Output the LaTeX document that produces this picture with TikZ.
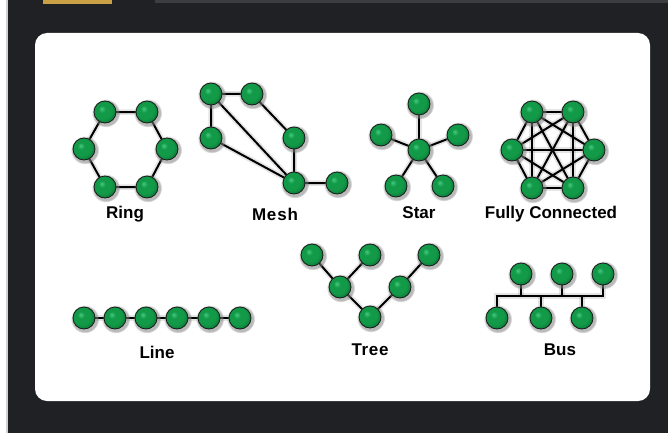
\documentclass[tikz,border=0pt]{standalone}
\usepackage{fontspec}
\setmainfont{Liberation Sans}
\usetikzlibrary{shadows,fadings}
\definecolor{darkbg}{HTML}{202124}
\definecolor{topgray}{HTML}{3C3D41}
\definecolor{goldbar}{HTML}{C9A043}
\definecolor{gHi}{HTML}{45C980}
\definecolor{gMid}{HTML}{129A48}
\definecolor{gDark}{HTML}{0A6E32}
\definecolor{gEdge}{HTML}{06421D}
\pgfdeclareradialshading{greenball}{\pgfpoint{-8bp}{8bp}}{%
  color(0bp)=(gHi); color(8bp)=(gMid); color(20bp)=(gMid); color(32bp)=(gDark); color(42bp)=(gEdge); color(50bp)=(gEdge)}
\pgfdeclarelayer{bg}
\pgfdeclarelayer{edges}
\pgfsetlayers{bg,edges,main}
\tikzset{
  ball/.style={circle, minimum size=22pt, inner sep=0pt, draw=black!90, line width=0.8pt,
    shading=greenball,
    circular drop shadow={shadow xshift=0.6pt, shadow yshift=-0.8pt, shadow scale=1.3, opacity=0.55}},
  link/.style={black, line width=2pt,
    preaction={draw, black, opacity=0.10, line width=5.5pt}},
  lbl/.style={font=\bfseries\fontsize{17}{19}\selectfont, text=black, inner sep=0pt}
}
\begin{document}
\begin{tikzpicture}[x=1pt,y=-1pt]
\useasboundingbox (0,0) rectangle (668,433);
\begin{pgfonlayer}{bg}
  \fill[darkbg] (0,0) rectangle (668,433);
  \fill[white] (0,0) rectangle (6,433);
  \fill[black!18] (6,0) rectangle (8,433);
  \fill[topgray] (155,0) rectangle (668,3);
  \fill[goldbar] (43,0) rectangle (112,4);
  \fill[white, rounded corners=12pt] (35,33) rectangle (650,401);
\end{pgfonlayer}

% ---------- Ring ----------
\node[ball] (r1) at (105,112) {};
\node[ball] (r2) at (147,112) {};
\node[ball] (r3) at (167,149) {};
\node[ball] (r4) at (147,187) {};
\node[ball] (r5) at (105,187) {};
\node[ball] (r6) at (84,149) {};
\node[lbl] (lring) at (125,214) {Ring};

% ---------- Mesh ----------
\node[ball] (m1) at (211,94) {};
\node[ball] (m2) at (252,94) {};
\node[ball] (m3) at (211,138) {};
\node[ball] (m4) at (294,138) {};
\node[ball] (m5) at (294,183) {};
\node[ball] (m6) at (337,183) {};
\node[lbl] (lmesh) at (275,214) {\addfontfeature{LetterSpace=5}Mesh};

% ---------- Star ----------
\node[ball] (s0) at (419,150) {};
\node[ball] (s1) at (419,104) {};
\node[ball] (s2) at (381,135) {};
\node[ball] (s3) at (458,135) {};
\node[ball] (s4) at (396,186) {};
\node[ball] (s5) at (443,186) {};
\node[lbl] (lstar) at (419,213) {Star};

% ---------- Fully connected ----------
\node[ball] (f1) at (532,112) {};
\node[ball] (f2) at (573,112) {};
\node[ball] (f3) at (594,150) {};
\node[ball] (f4) at (573,188) {};
\node[ball] (f5) at (532,188) {};
\node[ball] (f6) at (512,150) {};
\node[lbl] (lfull) at (551,214) {Fully Connected};

% ---------- Line ----------
\node[ball] (l1) at (84,318) {};
\node[ball] (l2) at (115,318) {};
\node[ball] (l3) at (146,318) {};
\node[ball] (l4) at (177,318) {};
\node[ball] (l5) at (209,318) {};
\node[ball] (l6) at (240,318) {};
\node[lbl] (lline) at (157,352) {Line};

% ---------- Tree ----------
\node[ball] (t1) at (312,255) {};
\node[ball] (t2) at (370,255) {};
\node[ball] (t3) at (340,287) {};
\node[ball] (t4) at (370,317) {};
\node[ball] (t5) at (400,287) {};
\node[ball] (t6) at (429,255) {};
\node[lbl] (ltree) at (370,350) {\addfontfeature{LetterSpace=4}Tree};

% ---------- Bus ----------
\node[ball] (b1) at (521,274) {};
\node[ball] (b2) at (562,274) {};
\node[ball] (b3) at (603,274) {};
\node[ball] (b4) at (497,318) {};
\node[ball] (b5) at (541,318) {};
\node[ball] (b6) at (582,318) {};
\coordinate (busL) at (497,296);
\coordinate (busR) at (603,296);
\node[lbl] (lbus) at (560,350) {Bus};

\begin{pgfonlayer}{edges}
  \draw[link] (r1.center) -- (r2.center) -- (r3.center) -- (r4.center) -- (r5.center) -- (r6.center) -- cycle;
  \draw[link] (m1.center) -- (m2.center) -- (m4.center) -- (m5.center) -- (m6.center);
  \draw[link] (m1.center) -- (m3.center) -- (m5.center);
  \draw[link] (m1.center) -- (m5.center);
  \foreach \n in {s1,s2,s3,s4,s5} \draw[link] (s0.center) -- (\n.center);
  \foreach \a/\b in {f1/f2,f1/f3,f1/f4,f1/f5,f1/f6,f2/f3,f2/f4,f2/f5,f2/f6,f3/f4,f3/f5,f3/f6,f4/f5,f4/f6,f5/f6}
    \draw[link] (\a.center) -- (\b.center);
  \draw[link] (l1.center) -- (l2.center) -- (l3.center) -- (l4.center) -- (l5.center) -- (l6.center);
  \draw[link] (t1.center) -- (t3.center) -- (t4.center) -- (t5.center) -- (t6.center);
  \draw[link] (t2.center) -- (t3.center);
  \draw[link] (b4.center) -- (busL) -- (busR) -- (b3.center);
  \draw[link] (b1.center) -- (b1.center |- busL);
  \draw[link] (b2.center) -- (b2.center |- busL);
  \draw[link] (b5.center) -- (b5.center |- busL);
  \draw[link] (b6.center) -- (b6.center |- busL);
\end{pgfonlayer}
\end{tikzpicture}
\end{document}
